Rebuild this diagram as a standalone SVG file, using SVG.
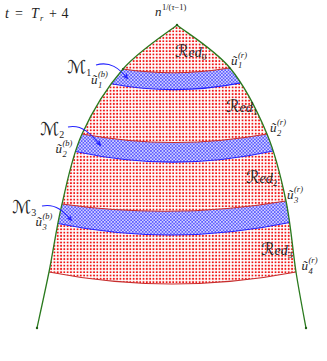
<svg xmlns="http://www.w3.org/2000/svg" width="327" height="361" viewBox="0 0 327 361">
<style>
.m{font-family:"Liberation Serif","DejaVu Serif",serif;font-style:italic;font-size:13px;fill:#222}
.t{font-size:14px}
.up{font-style:normal}
.s{font-family:"Liberation Serif","DejaVu Serif",serif;font-style:italic;font-size:8.5px;fill:#222}
.cal{font-family:"DejaVu Serif","DejaVu Sans",serif;font-style:normal}
.red{font-size:14px}
.big{font-size:18px}
.green{fill:none;stroke:#2a7a1e;stroke-width:1.3}
.rl{fill:none;stroke:#c62d2d;stroke-width:1.1}
.bl{fill:none;stroke:#2424ff;stroke-width:1.1}
.arr{fill:none;stroke:#2424ff;stroke-width:1.1;marker-end:url(#ah)}
.dot{fill:#1f5e16}
</style>
<defs>
<pattern id="rdots" width="3.3" height="3.3" patternUnits="userSpaceOnUse">
<rect width="3.3" height="3.3" fill="#fff"/>
<rect x="0.7" y="0.7" width="1.8" height="1.8" fill="#f01616"/>
</pattern>
<pattern id="bx" width="3.3" height="3.3" patternUnits="userSpaceOnUse">
<rect width="3.3" height="3.3" fill="#d2d2ff"/>
<rect x="0" y="0" width="1.65" height="1.65" fill="#5a5aff"/>
<rect x="1.65" y="1.65" width="1.65" height="1.65" fill="#5a5aff"/>
</pattern>
<clipPath id="reg">
<path d="M177,25 C168,32.3 138.8,50.8 123,69 C107.2,87.2 92.2,111.5 82,134 C71.8,156.5 67.5,181 62,204 C56.5,227 53.2,251.3 49,272 Q172,296 296,272 C292.7,250.8 290.8,224 286,201 C281.2,178 276.3,156.2 267,134 C257.7,111.8 245,86.2 230,68 C215,49.8 185.8,32.2 177,25 Z"/>
</clipPath>
<marker id="ah" viewBox="-6 -3 7 6" refX="0" refY="0" markerWidth="7" markerHeight="6" orient="auto" markerUnits="userSpaceOnUse">
<path d="M0.5,0 L-5.5,-2.6 L-4,0 L-5.5,2.6 Z" fill="#2424ff"/>
</marker>
</defs>

<g id="region">
<path fill="url(#rdots)" d="M177,25 C168,32.3 138.8,50.8 123,69 C107.2,87.2 92.2,111.5 82,134 C71.8,156.5 67.5,181 62,204 C56.5,227 53.2,251.3 49,272 Q172,296 296,272 C292.7,250.8 290.8,224 286,201 C281.2,178 276.3,156.2 267,134 C257.7,111.8 245,86.2 230,68 C215,49.8 185.8,32.2 177,25 Z"/>
</g>

<g id="bands" clip-path="url(#reg)">
<path fill="url(#bx)" d="M100,69.2 L123,69 Q176,77 229,68 L262,68 L262,83 L241,83 Q176,96 111.4,83.7 L95,84 Z"/>
<path fill="url(#bx)" d="M70,134 L82,134 Q174,151 267,134 L285,134 L285,151 L273,151 Q174,173 75.5,151.5 L60,151.5 Z"/>
<path fill="url(#bx)" d="M50,204 L62,204 Q174,220 286,201 L300,201 L300,222.5 L289.6,222.5 Q173,247 57.8,223.5 L45,223.5 Z"/>
</g>

<g id="lines">
<path class="rl" d="M123,69 Q176,77 229,68"/>
<path class="bl" d="M111.4,83.7 Q176,96 240.8,82.9"/>
<path class="rl" d="M82,134 Q174,151 267,134"/>
<path class="bl" d="M75.5,151.5 Q174,173 273,151"/>
<path class="rl" d="M62,204 Q174,220 286,201"/>
<path class="bl" d="M57.8,223.5 Q173,247 289.6,222.5"/>
<path class="rl" d="M49,272 Q172,296 296,272"/>
</g>

<g id="boundary">
<path class="green" d="M177,25 C168,32.3 138.8,50.8 123,69 C107.2,87.2 92.2,111.5 82,134 C71.8,156.5 67.5,181 62,204 C56.5,227 53.2,251.3 49,272 C44.8,292.7 39,318.7 37,328"/>
<path class="green" d="M177,25 C185.8,32.2 215,49.8 230,68 C245,86.2 257.7,111.8 267,134 C276.3,156.2 281.2,178 286,201 C290.8,224 292.7,250.8 296,272 C299.3,292.8 304.3,318.7 306,328"/>
<circle class="dot" cx="177" cy="25" r="1.2"/>
<circle class="dot" cx="37" cy="328" r="1.2"/>
<circle class="dot" cx="306" cy="328" r="1.2"/>
<circle class="dot" cx="229.5" cy="68" r="1"/>
<circle class="dot" cx="123" cy="69" r="1"/>
</g>

<g id="labels">
<g id="title">
<text class="m t" x="5" y="18">t</text>
<text class="m t up" x="15" y="18">=</text>
<text class="m t" x="31" y="18">T</text>
<text class="s" x="40" y="20.5">r</text>
<text class="m t up" x="49" y="18">+</text>
<text class="m t up" x="61.5" y="18">4</text>
</g>
<g id="apex-label">
<text class="m" x="155" y="16">n</text>
<text class="s" x="162" y="10"><tspan font-style="normal">1/(</tspan>τ<tspan font-style="normal">−1)</tspan></text>
</g>
<text id="red0" class="m red" x="175" y="57"><tspan class="cal" font-size="17">ℛ</tspan>ed<tspan font-size="9" dy="2.5" font-style="normal">0</tspan></text>
<text id="red1" class="m red" x="226" y="112"><tspan class="cal" font-size="17">ℛ</tspan>ed<tspan font-size="9" dy="2.5" font-style="normal">1</tspan></text>
<text id="red2" class="m red" x="246" y="183"><tspan class="cal" font-size="17">ℛ</tspan>ed<tspan font-size="9" dy="2.5" font-style="normal">2</tspan></text>
<text id="red3" class="m red" x="261" y="255"><tspan class="cal" font-size="17">ℛ</tspan>ed<tspan font-size="9" dy="2.5" font-style="normal">3</tspan></text>

<g id="u1r"><text class="m" x="231" y="65">ũ</text><text class="s" x="238" y="58">(r)</text><text class="s up" x="238" y="68">1</text></g>
<g id="u1b"><text class="m" x="91" y="84">ũ</text><text class="s" x="98" y="77">(b)</text><text class="s up" x="98" y="88">1</text></g>
<g id="u2r"><text class="m" x="270" y="132">ũ</text><text class="s" x="277" y="125">(r)</text><text class="s up" x="277" y="136">2</text></g>
<g id="u2b"><text class="m" x="55.5" y="153">ũ</text><text class="s" x="62.5" y="146">(b)</text><text class="s up" x="62.5" y="157">2</text></g>
<g id="u3r"><text class="m" x="287" y="199">ũ</text><text class="s" x="294" y="192">(r)</text><text class="s up" x="294" y="203">3</text></g>
<g id="u3b"><text class="m" x="35.5" y="226">ũ</text><text class="s" x="42.5" y="219">(b)</text><text class="s up" x="42.5" y="230">3</text></g>
<g id="u4r"><text class="m" x="301.5" y="270">ũ</text><text class="s" x="308.5" y="263">(r)</text><text class="s up" x="308.5" y="274">4</text></g>

<text id="M1" class="m big" x="67" y="73"><tspan class="cal">ℳ</tspan><tspan font-size="10" dy="2.5" font-style="normal">1</tspan></text>
<text id="M2" class="m big" x="40" y="135"><tspan class="cal">ℳ</tspan><tspan font-size="10" dy="2.5" font-style="normal">2</tspan></text>
<text id="M3" class="m big" x="12" y="213"><tspan class="cal">ℳ</tspan><tspan font-size="10" dy="2.5" font-style="normal">3</tspan></text>
</g>

<g id="connectors">
<path class="arr" d="M96,65 C110,61 119,68 128,79"/>
<path class="arr" d="M68,127 C82,124 91,134 101,146"/>
<path class="arr" d="M42,206 C56,203 64,212 72,221"/>
</g>
</svg>
